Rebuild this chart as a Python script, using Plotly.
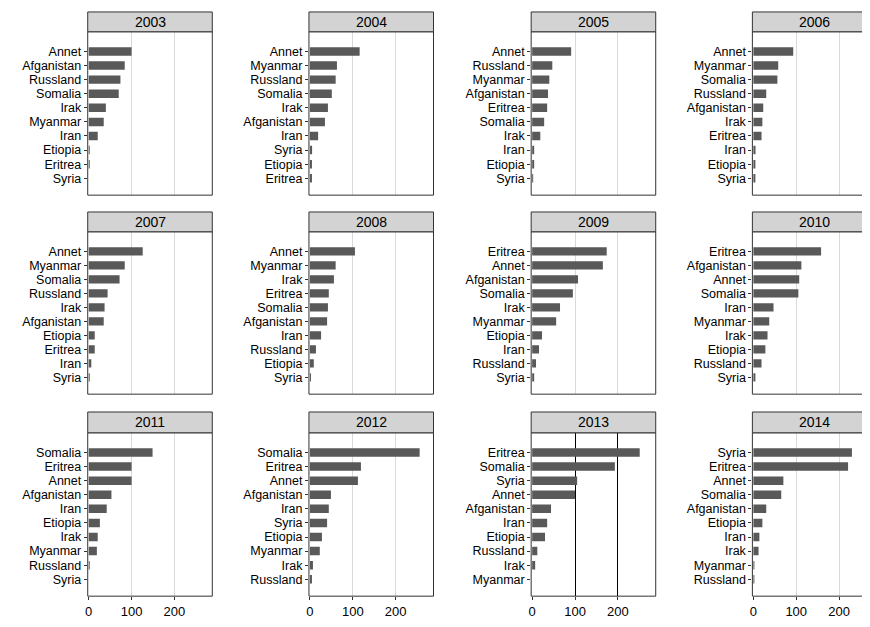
import plotly.graph_objects as go

years = ["2003", "2004", "2005", "2006", "2007", "2008",
         "2009", "2010", "2011", "2012", "2013", "2014"]

countries = {
    "2003": ["Annet", "Afganistan", "Russland", "Somalia", "Irak", "Myanmar", "Iran", "Etiopia", "Eritrea", "Syria"],
    "2004": ["Annet", "Myanmar", "Russland", "Somalia", "Irak", "Afganistan", "Iran", "Syria", "Etiopia", "Eritrea"],
    "2005": ["Annet", "Russland", "Myanmar", "Afganistan", "Eritrea", "Somalia", "Irak", "Iran", "Etiopia", "Syria"],
    "2006": ["Annet", "Myanmar", "Somalia", "Russland", "Afganistan", "Irak", "Eritrea", "Iran", "Etiopia", "Syria"],
    "2007": ["Annet", "Myanmar", "Somalia", "Russland", "Irak", "Afganistan", "Etiopia", "Eritrea", "Iran", "Syria"],
    "2008": ["Annet", "Myanmar", "Irak", "Eritrea", "Somalia", "Afganistan", "Iran", "Russland", "Etiopia", "Syria"],
    "2009": ["Eritrea", "Annet", "Afganistan", "Somalia", "Irak", "Myanmar", "Etiopia", "Iran", "Russland", "Syria"],
    "2010": ["Eritrea", "Afganistan", "Annet", "Somalia", "Iran", "Myanmar", "Irak", "Etiopia", "Russland", "Syria"],
    "2011": ["Somalia", "Eritrea", "Annet", "Afganistan", "Iran", "Etiopia", "Irak", "Myanmar", "Russland", "Syria"],
    "2012": ["Somalia", "Eritrea", "Annet", "Afganistan", "Iran", "Syria", "Etiopia", "Myanmar", "Irak", "Russland"],
    "2013": ["Eritrea", "Somalia", "Syria", "Annet", "Afganistan", "Iran", "Etiopia", "Russland", "Irak", "Myanmar"],
    "2014": ["Syria", "Eritrea", "Annet", "Somalia", "Afganistan", "Etiopia", "Iran", "Irak", "Myanmar", "Russland"],
}

values = {
    "2003": [100, 84, 74, 70, 40, 35, 21, 2, 1, 0],
    "2004": [116, 63, 60, 51, 42, 35, 19, 5, 4, 3],
    "2005": [91, 47, 40, 37, 35, 28, 19, 4, 3, 1],
    "2006": [93, 58, 56, 30, 23, 21, 19, 5, 4, 3],
    "2007": [126, 84, 72, 44, 37, 35, 14, 14, 6, 1],
    "2008": [105, 60, 56, 44, 42, 40, 26, 14, 9, 1],
    "2009": [174, 165, 107, 95, 65, 56, 23, 16, 9, 3],
    "2010": [158, 112, 107, 105, 47, 37, 33, 28, 19, 4],
    "2011": [149, 100, 100, 53, 42, 26, 21, 19, 2, 0],
    "2012": [256, 119, 112, 49, 44, 40, 28, 23, 7, 4],
    "2013": [251, 193, 105, 100, 44, 35, 30, 12, 7, 0],
    "2014": [230, 221, 70, 65, 30, 21, 14, 12, 1, 1],
}

OFF = 8  # page body margin
W, H = 870 - 2 * OFF, 627 - 2 * OFF
col_px = [(85, 210), (307, 432), (530, 655), (752, 877)]
row_px = [(12, 32, 197), (214, 234, 398), (416, 437, 602)]
FONT = "Liberation Sans, Arial, sans-serif"


def px(v, size):
    return (v - OFF) / size


fig = go.Figure()
shapes = []
annotations = []
layout = {}

for i, yr in enumerate(years):
    r, c = divmod(i, 4)
    x0, x1 = col_px[c]
    s0, p0, p1 = row_px[r]
    n = i + 1
    xa = "x" if n == 1 else f"x{n}"
    ya = "y" if n == 1 else f"y{n}"
    fig.add_bar(x=values[yr], y=countries[yr], orientation="h",
                marker=dict(color="#595959", line=dict(width=0)),
                width=0.6, showlegend=False, xaxis=xa, yaxis=ya)
    xr1 = min(x1, OFF + W)
    # 43 px per 100 units, zero at x0+1
    rng = [-1 / 0.43, (xr1 - x0 - 1) / 0.43]
    layout[f"xaxis{'' if n == 1 else n}"] = dict(
        domain=[px(x0, W), px(xr1, W)], anchor=ya, range=rng,
        tickvals=[0, 100, 200], showticklabels=(r == 2),
        ticks="outside" if r == 2 else "", ticklen=3, tickcolor="#333",
        showgrid=True, gridcolor="black" if yr == "2013" else "#d9d9d9",
        gridwidth=1, zeroline=False, showline=False,
        tickfont=dict(family=FONT, size=13, color="black"))
    layout[f"yaxis{'' if n == 1 else n}"] = dict(
        domain=[1 - px(p1, H), 1 - px(p0, H)], anchor=xa,
        categoryorder="array", categoryarray=countries[yr],
        tickmode="array", tickvals=countries[yr],
        range=[9 + 1.2, -1.4], showgrid=False, zeroline=False,
        ticks="outside", ticklen=3, tickcolor="#333",
        tickfont=dict(family=FONT, size=12.5, color="black"))
    shapes.append(dict(type="rect", xref="paper", yref="paper",
                       x0=px(x0, W), x1=px(x1, W), y0=1 - px(p1, H), y1=1 - px(p0, H),
                       line=dict(color="#333", width=1)))
    shapes.append(dict(type="rect", xref="paper", yref="paper",
                       x0=px(x0, W), x1=px(x1, W), y0=1 - px(p0, H), y1=1 - px(s0, H),
                       fillcolor="#d3d3d3", line=dict(color="#333", width=1)))
    annotations.append(dict(text=yr, xref="paper", yref="paper",
                            x=px((x0 + x1) / 2, W), y=1 - px((s0 + p0) / 2, H),
                            showarrow=False, xanchor="center", yanchor="middle",
                            font=dict(family=FONT, size=14, color="black")))

fig.update_layout(width=W, height=H, margin=dict(l=0, r=0, t=0, b=0),
                  plot_bgcolor="white", paper_bgcolor="white",
                  shapes=shapes, annotations=annotations, bargap=0.4,
                  **layout)
fig.write_html("out.html")
